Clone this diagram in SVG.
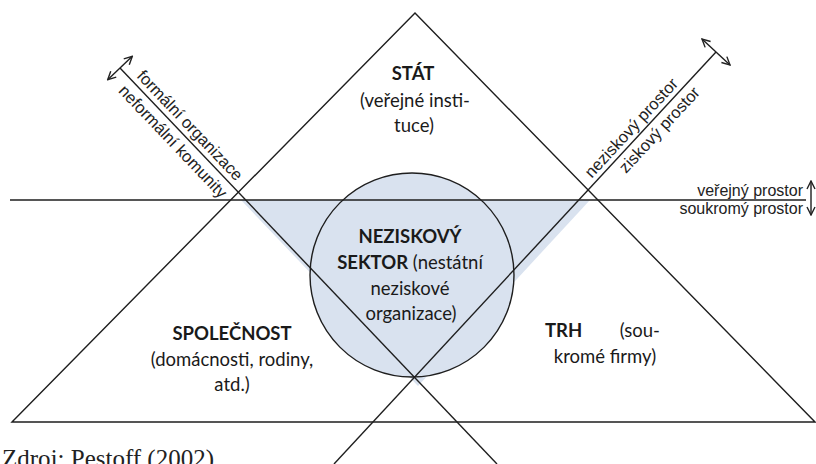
<svg xmlns="http://www.w3.org/2000/svg" width="816" height="464" viewBox="0 0 816 464">
<style>
.ln{fill:none;stroke:#1e1e1e;stroke-width:1.4}
.lab{font-family:"Liberation Sans",Arial,sans-serif;font-size:16px;fill:#222}
.rl{font-size:16.5px}
.main{font-family:Lato,"Noto Sans",sans-serif;font-size:18.5px;fill:#1a1a1a}
.b{font-weight:bold}
.src{font-family:"Liberation Serif","Times New Roman",serif;font-size:25px;fill:#222}
</style>
<defs>
<marker id="ah" viewBox="0 0 10 10" refX="9" refY="5" markerWidth="10" markerHeight="10" markerUnits="userSpaceOnUse" orient="auto-start-reverse">
<path d="M1,1 L9,5 L1,9" fill="none" stroke="#222" stroke-width="1.4"/>
</marker>
</defs>
<rect width="816" height="464" fill="#ffffff"/>
<polygon id="shade" points="241,200 590,200 418,386" fill="#d9e2ef"/>
<g id="neziskovy-sektor">
<circle cx="412" cy="275" r="102" fill="#d9e2ef" stroke="#1e1e1e" stroke-width="1.4"/>
<text class="main" text-anchor="middle"><tspan class="b" x="410" y="243">NEZISKOVÝ</tspan><tspan x="410" y="269"><tspan class="b">SEKTOR</tspan> (nestátní</tspan><tspan x="410" y="295">neziskové</tspan><tspan x="411" y="320">organizace)</tspan></text>
</g>
<g id="connectors">
<polygon class="ln" points="12,422 415,13 815,422"/>
<line class="ln" x1="10" y1="200" x2="806" y2="200"/>
<line class="ln" x1="120" y1="68" x2="497" y2="464"/>
<line class="ln" x1="716" y1="52" x2="334" y2="464"/>
<line class="ln" x1="107.7" y1="79.7" x2="132.3" y2="56.3" marker-start="url(#ah)" marker-end="url(#ah)"/>
<line class="ln" x1="702" y1="39" x2="730" y2="65" marker-start="url(#ah)" marker-end="url(#ah)"/>
<line class="ln" x1="811" y1="181" x2="811" y2="215" marker-start="url(#ah)" marker-end="url(#ah)"/>
</g>
<g id="stat">
<text class="main" text-anchor="middle"><tspan class="b" x="413" y="80">STÁT</tspan><tspan x="415" y="107">(veřejné insti-</tspan><tspan x="414" y="132">tuce)</tspan></text>
</g>
<g id="spolecnost">
<text class="main" text-anchor="middle"><tspan class="b" x="232" y="340">SPOLEČNOST</tspan><tspan x="232" y="366">(domácnosti, rodiny,</tspan><tspan x="232" y="391">atd.)</tspan></text>
</g>
<g id="trh">
<text class="main b" x="545" y="337">TRH</text>
<text class="main" x="660" y="337" text-anchor="end">(sou-</text>
<text class="main" x="605" y="363" text-anchor="middle">kromé firmy)</text>
</g>
<g id="axis-labels">
<g transform="translate(182,133) rotate(46.4)">
<text class="lab rl" x="0" y="-5.5" text-anchor="middle">formální organizace</text>
<text class="lab rl" x="0" y="18" text-anchor="middle">neformální komunity</text>
</g>
<g transform="translate(639,135) rotate(-47.2)">
<text class="lab rl" x="0" y="-5" text-anchor="middle">neziskový prostor</text>
</g>
<g transform="translate(651,122) rotate(-47.2)">
<text class="lab rl" x="0" y="17" text-anchor="middle">ziskový prostor</text>
</g>
<text class="lab" x="803" y="196" text-anchor="end">veřejný prostor</text>
<text class="lab" x="803" y="214" text-anchor="end">soukromý prostor</text>
</g>
<text class="src" x="2" y="467">Zdroj: Pestoff (2002)</text>
</svg>
